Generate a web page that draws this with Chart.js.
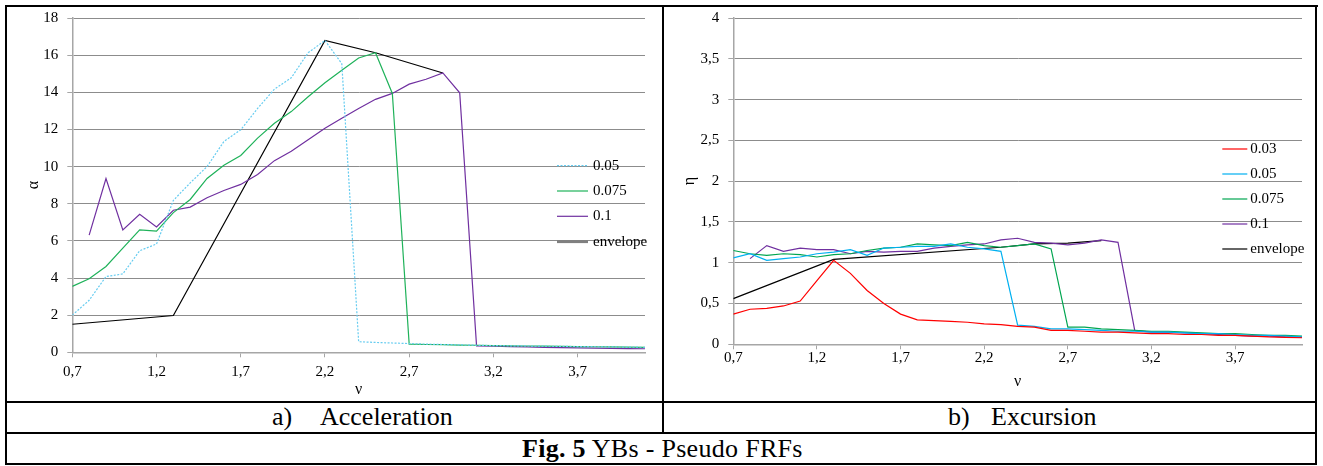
<!DOCTYPE html>
<html>
<head>
<meta charset="utf-8">
<script src="https://cdn.jsdelivr.net/npm/chart.js@4.4.1/dist/chart.umd.min.js"></script>
<style>
  html, body { margin:0; padding:0; background:#fff; }
  body { width:1323px; height:466px; position:relative; overflow:hidden; font-family:"Liberation Serif", "Times New Roman", Tinos, serif; }
  canvas { position:absolute; }
  .ln { position:absolute; background:#000; z-index:5; }
  .cap { position:absolute; font-size:26px; line-height:30px; white-space:nowrap; color:#000; }
</style>
</head>
<body>
<canvas id="cA" width="662" height="401" style="left:0px;top:0px;width:662px;height:401px"></canvas>
<canvas id="cB" width="651" height="401" style="left:664px;top:0px;width:651px;height:401px"></canvas>

<div class="ln" style="left:5px;top:5px;width:1313px;height:2px"></div>
<div class="ln" style="left:5px;top:5px;width:2px;height:460px"></div>
<div class="ln" style="left:1315px;top:5px;width:2px;height:460px"></div>
<div class="ln" style="left:5px;top:463px;width:1312px;height:2px"></div>
<div class="ln" style="left:662px;top:5px;width:2px;height:429px"></div>
<div class="ln" style="left:5px;top:401px;width:1312px;height:2px"></div>
<div class="ln" style="left:5px;top:432px;width:1312px;height:2px"></div>

<div class="cap" style="left:272px;top:402px">a)</div>
<div class="cap" style="left:320px;top:402px">Acceleration</div>
<div class="cap" style="left:948px;top:402px">b)</div>
<div class="cap" style="left:991px;top:402px">Excursion</div>
<div class="cap" style="left:522px;top:434px;letter-spacing:0.3px"><b>Fig. 5</b> YBs - Pseudo FRFs</div>

<script>
// ---- data ----
const nu = [0.7,0.8,0.9,1.0,1.1,1.2,1.3,1.4,1.5,1.6,1.7,1.8,1.9,2.0,2.1,2.2,2.3,2.4,2.5,2.6,2.7,2.8,2.9,3.0,3.1,3.2,3.3,3.4,3.5,3.6,3.7,3.8,3.9,4.0,4.1];
const xTicks = [0.7,1.2,1.7,2.2,2.7,3.2,3.7];

// a) Acceleration
const accLabels = ['0.05','0.075','0.1','envelope'];
const acc005 = [2.0,2.8,4.08,4.22,5.47,5.83,8.18,9.12,10.0,11.35,11.98,13.13,14.17,14.78,16.13,16.79,15.54,0.57,0.53,0.50,0.47,0.44,0.42,0.40,0.38,0.36,0.35,0.34,0.33,0.32,0.31,0.30,0.29,0.28,0.27];
const acc0075 = [3.55,3.96,4.62,5.61,6.59,6.52,7.52,8.23,9.36,10.07,10.6,11.53,12.33,12.96,13.76,14.51,15.19,15.85,16.13,13.94,0.44,0.42,0.41,0.39,0.38,0.36,0.35,0.34,0.33,0.32,0.31,0.30,0.29,0.28,0.27];
const acc01 = [null,6.31,9.36,6.59,7.43,6.75,7.65,7.82,8.32,8.71,9.04,9.57,10.32,10.82,11.44,12.06,12.6,13.13,13.62,13.94,14.44,14.7,15.04,13.97,0.35,0.33,0.31,0.29,0.27,0.25,0.24,0.22,0.21,0.20,0.19];
const accEnvNu = [0.7,1.3,2.2,2.5,2.9];
const accEnv = [1.51,1.98,16.79,16.13,15.04];
const accYTicks = [0,2,4,6,8,10,12,14,16,18];

// b) Excursion
const excLabels = ['0.03','0.05','0.075','0.1','envelope'];
const exc003 = [0.37,0.43,0.44,0.47,0.53,0.78,1.03,0.87,0.66,0.50,0.37,0.30,0.29,0.28,0.27,0.25,0.24,0.22,0.21,0.17,0.17,0.16,0.15,0.15,0.14,0.13,0.13,0.12,0.12,0.11,0.11,0.10,0.09,0.085,0.08];
const exc005 = [1.06,1.11,1.03,1.05,1.07,1.11,1.13,1.16,1.09,1.18,1.19,1.20,1.20,1.23,1.19,1.17,1.14,0.235,0.22,0.19,0.19,0.18,0.17,0.16,0.16,0.15,0.15,0.14,0.13,0.13,0.12,0.11,0.11,0.10,0.09];
const exc0075 = [1.15,1.11,1.09,1.11,1.10,1.07,1.10,1.11,1.15,1.18,1.19,1.23,1.22,1.21,1.25,1.21,1.19,1.21,1.23,1.17,0.21,0.21,0.19,0.18,0.17,0.16,0.16,0.15,0.14,0.13,0.13,0.12,0.11,0.11,0.10];
const exc01 = [null,1.05,1.21,1.14,1.18,1.16,1.16,1.11,1.14,1.13,1.14,1.14,1.18,1.20,1.22,1.23,1.28,1.30,1.25,1.24,1.22,1.24,1.28,1.25,0.17,0.15,0.15,0.14,0.13,0.12,0.11,0.10,0.10,0.09,0.085];
const excEnvNu = [0.7,1.3,2.3,2.5,2.7,2.9];
const excEnv = [0.56,1.04,1.19,1.23,1.24,1.27];
const excYTicks = [0,0.5,1,1.5,2,2.5,3,3.5,4];

// ---- helpers ----
const pts = (xs, ys) => xs.map((x, i) => ({x: x, y: ys[i]}));
const comma = v => String(Math.round(v * 10) / 10).replace('.', ',');
const FONT = '"Liberation Serif", "Times New Roman", Tinos, serif';

const sideLegend = {
  id: 'sideLegend',
  afterDraw(chart, args, o) {
    const ctx = chart.ctx;
    ctx.save();
    chart.data.datasets.forEach((ds, i) => {
      const y = o.y + i * o.gap;
      ctx.beginPath();
      ctx.strokeStyle = ds.legendColor || ds.borderColor;
      ctx.lineWidth = ds.legendWidth || ds.borderWidth;
      ctx.setLineDash(ds.borderDash || []);
      ctx.moveTo(o.x, y);
      ctx.lineTo(o.x + o.len, y);
      ctx.stroke();
      ctx.setLineDash([]);
      ctx.fillStyle = '#000';
      ctx.font = '15px ' + FONT;
      ctx.textBaseline = 'middle';
      ctx.textAlign = 'left';
      ctx.fillText(ds.label, o.x + o.len + o.gapText, y);
    });
    ctx.restore();
  }
};

function makeScales(cfg) {
  return {
    x: {
      type: 'linear', min: 0.7, max: 4.1,
      afterBuildTicks: s => { s.ticks = xTicks.map(v => ({value: v})); },
      afterFit: s => { s.height = cfg.xh; },
      ticks: { callback: v => comma(v), font: {family: FONT, size: 15}, color: '#000', padding: cfg.xpad, maxRotation: 0, autoSkip: false },
      grid: { drawOnChartArea: false, drawTicks: true, tickLength: 5, color: '#a6a6a6', lineWidth: 1 },
      border: { color: '#a6a6a6', width: 1.5 },
      title: { display: true, text: 'ν', font: {family: FONT, size: 16}, color: '#000', padding: {top: 0, bottom: cfg.xtpad} }
    },
    y: {
      min: 0, max: cfg.ymax,
      afterBuildTicks: s => { s.ticks = cfg.yticks.map(v => ({value: v})); },
      afterFit: s => { s.width = cfg.yw; },
      ticks: { callback: v => comma(v), font: {family: FONT, size: 15}, color: '#000', padding: 9, autoSkip: false },
      grid: { color: '#8c8c8c', lineWidth: 1, drawTicks: true, tickLength: 5, tickColor: '#a6a6a6' },
      border: { color: '#a6a6a6', width: 1.5 },
      title: { display: true, text: cfg.ytitle, font: {family: FONT, size: 16}, color: '#000', padding: {top: cfg.ytpad, bottom: 0} }
    }
  };
}

const common = {
  responsive: false, animation: false, devicePixelRatio: 1,
  elements: { point: { radius: 0, hoverRadius: 0 }, line: { tension: 0, borderWidth: 1.2 } },
  plugins: { legend: { display: false }, tooltip: { enabled: false } }
};

function build() {
new Chart(document.getElementById('cA'), {
  type: 'line',
  data: {
    datasets: [
      { label: accLabels[0], data: pts(nu, acc005), borderColor: '#66ccf0', borderWidth: 1.2, borderDash: [2, 1.5] },
      { label: accLabels[1], data: pts(nu, acc0075), borderColor: '#1fb25a', borderWidth: 1.2 },
      { label: accLabels[2], data: pts(nu, acc01), borderColor: '#7030a0', borderWidth: 1.2 },
      { label: accLabels[3], data: pts(accEnvNu, accEnv), borderColor: '#000', borderWidth: 1.2, legendColor: '#808080', legendWidth: 3 }
    ]
  },
  options: Object.assign({}, common, {
    layout: { padding: { left: 0, right: 17, top: 15.7, bottom: 0 } },
    scales: makeScales({ xh: 48.7, xpad: 6, xtpad: 1.5, ymax: 18, yticks: accYTicks, yw: 72.3, ytitle: 'α', ytpad: 24 }),
    plugins: Object.assign({}, common.plugins, { sideLegend: { x: 557, y: 165.7, gap: 25.3, len: 31, gapText: 5 } })
  }),
  plugins: [sideLegend]
});

new Chart(document.getElementById('cB'), {
  type: 'line',
  data: {
    datasets: [
      { label: excLabels[0], data: pts(nu, exc003), borderColor: '#ff0000', borderWidth: 1.2 },
      { label: excLabels[1], data: pts(nu, exc005), borderColor: '#00b0f0', borderWidth: 1.2 },
      { label: excLabels[2], data: pts(nu, exc0075), borderColor: '#00a550', borderWidth: 1.2 },
      { label: excLabels[3], data: pts(nu, exc01), borderColor: '#7030a0', borderWidth: 1.2 },
      { label: excLabels[4], data: pts(excEnvNu, excEnv), borderColor: '#000', borderWidth: 1.2 }
    ]
  },
  options: Object.assign({}, common, {
    layout: { padding: { left: 0, right: 13, top: 15.5, bottom: 0 } },
    scales: makeScales({ xh: 56.7, xpad: 0, xtpad: 10, ymax: 4, yticks: excYTicks, yw: 69.3, ytitle: 'η', ytpad: 16.4 }),
    plugins: Object.assign({}, common.plugins, { sideLegend: { x: 558.3, y: 149, gap: 25, len: 25, gapText: 3 } })
  }),
  plugins: [sideLegend]
});
}
if (document.fonts && document.fonts.load) {
  Promise.all([document.fonts.load('15px "Liberation Serif"'), document.fonts.load('bold 15px "Liberation Serif"')]).then(build, build);
} else { build(); }
</script>
</body>
</html>
